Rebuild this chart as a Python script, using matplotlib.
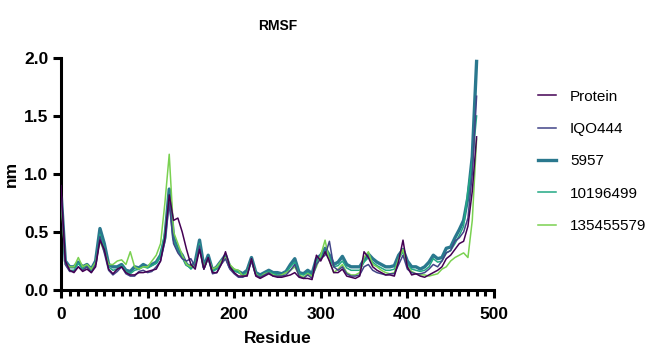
import numpy as np
import matplotlib.pyplot as plt
from matplotlib.ticker import MultipleLocator

plt.rcParams['font.family'] = ['Liberation Sans', 'DejaVu Sans']

residue = list(range(0, 481, 5))

protein = [0.9, 0.25, 0.17, 0.15, 0.2, 0.16, 0.18, 0.15, 0.2, 0.43,
           0.35, 0.18, 0.14, 0.18, 0.2, 0.15, 0.13, 0.13, 0.15, 0.15,
           0.16, 0.17, 0.18, 0.25, 0.45, 0.82, 0.6, 0.62, 0.5, 0.35,
           0.22, 0.18, 0.35, 0.18, 0.28, 0.15, 0.15, 0.22, 0.33, 0.2,
           0.15, 0.12, 0.12, 0.12, 0.27, 0.12, 0.1, 0.12, 0.14, 0.12,
           0.11, 0.11, 0.12, 0.13, 0.15, 0.11, 0.1, 0.1, 0.09, 0.3,
           0.25, 0.33, 0.25, 0.15, 0.15, 0.18, 0.12, 0.11, 0.1, 0.12,
           0.33, 0.28, 0.2, 0.17, 0.15, 0.13, 0.13, 0.12, 0.25, 0.43,
           0.2, 0.13, 0.14, 0.12, 0.11, 0.13, 0.15, 0.17, 0.2, 0.27,
           0.3, 0.35, 0.4, 0.42, 0.55, 0.85, 1.32]

iqo444 = [0.85, 0.22, 0.16, 0.16, 0.2, 0.17, 0.2, 0.15, 0.22, 0.46,
          0.32, 0.17, 0.13, 0.16, 0.2, 0.14, 0.12, 0.12, 0.16, 0.17,
          0.15, 0.16, 0.2, 0.25, 0.42, 0.75, 0.4, 0.32, 0.27, 0.25,
          0.27, 0.2, 0.38, 0.18, 0.28, 0.14, 0.15, 0.22, 0.27, 0.18,
          0.14, 0.11, 0.11, 0.13, 0.25, 0.13, 0.11, 0.13, 0.15, 0.12,
          0.12, 0.12, 0.13, 0.17, 0.22, 0.12, 0.1, 0.13, 0.1, 0.22,
          0.27, 0.3, 0.42, 0.2, 0.17, 0.2, 0.14, 0.12, 0.12, 0.13,
          0.2, 0.22, 0.17, 0.15, 0.14, 0.13, 0.14, 0.14, 0.22, 0.3,
          0.18, 0.15, 0.14, 0.14, 0.15, 0.18, 0.22, 0.2, 0.25, 0.32,
          0.34, 0.42, 0.45, 0.5, 0.62, 1.0, 1.67]

c5957 = [0.85, 0.25, 0.2, 0.2, 0.24, 0.2, 0.22, 0.18, 0.25, 0.53,
         0.4, 0.22, 0.2, 0.2, 0.22, 0.17, 0.16, 0.2, 0.19, 0.22,
         0.2, 0.22, 0.24, 0.3, 0.45, 0.87, 0.45, 0.35, 0.3, 0.22,
         0.2, 0.24, 0.43, 0.2, 0.3, 0.17, 0.2, 0.25, 0.3, 0.2,
         0.17, 0.16, 0.14, 0.17, 0.28, 0.15, 0.13, 0.15, 0.17, 0.15,
         0.15, 0.14, 0.16, 0.22, 0.27, 0.15, 0.14, 0.17, 0.14, 0.27,
         0.3, 0.36, 0.3, 0.22, 0.24, 0.29, 0.22, 0.2, 0.2, 0.2,
         0.26, 0.31, 0.27, 0.24, 0.22, 0.2, 0.2, 0.21, 0.3, 0.35,
         0.25, 0.2, 0.2, 0.18, 0.2, 0.24, 0.3, 0.27, 0.28, 0.36,
         0.37, 0.45, 0.52, 0.6, 0.8, 1.15, 1.97]

c10196499 = [0.85, 0.22, 0.17, 0.17, 0.23, 0.18, 0.2, 0.16, 0.23, 0.48,
             0.36, 0.2, 0.17, 0.18, 0.21, 0.16, 0.14, 0.17, 0.18, 0.2,
             0.19, 0.21, 0.23, 0.3, 0.5, 0.8, 0.42, 0.33, 0.28, 0.22,
             0.18, 0.22, 0.4, 0.18, 0.28, 0.16, 0.18, 0.23, 0.28, 0.2,
             0.17, 0.15, 0.13, 0.15, 0.26, 0.14, 0.12, 0.14, 0.16, 0.14,
             0.13, 0.13, 0.15, 0.2, 0.24, 0.14, 0.13, 0.15, 0.12, 0.24,
             0.28, 0.33, 0.28, 0.2, 0.21, 0.25, 0.19, 0.17, 0.17, 0.17,
             0.24, 0.28, 0.24, 0.21, 0.19, 0.17, 0.17, 0.18, 0.27, 0.33,
             0.22, 0.18, 0.17, 0.16, 0.17, 0.2, 0.27, 0.24, 0.25, 0.32,
             0.34, 0.4, 0.47, 0.55, 0.86, 1.1, 1.5]

c135455579 = [0.8, 0.23, 0.2, 0.2, 0.28, 0.2, 0.22, 0.18, 0.24, 0.42,
              0.33, 0.22, 0.22, 0.25, 0.26, 0.22, 0.33, 0.2, 0.18, 0.2,
              0.2, 0.25, 0.3, 0.4, 0.75, 1.17, 0.5, 0.4, 0.3, 0.22,
              0.2, 0.22, 0.35, 0.2, 0.27, 0.18, 0.2, 0.25, 0.28, 0.22,
              0.18, 0.17, 0.12, 0.14, 0.26, 0.14, 0.11, 0.14, 0.15, 0.13,
              0.12, 0.13, 0.15, 0.17, 0.2, 0.13, 0.11, 0.14, 0.12, 0.2,
              0.3, 0.43, 0.25, 0.15, 0.18, 0.22, 0.15, 0.13, 0.13, 0.15,
              0.28, 0.33, 0.22, 0.2, 0.17, 0.15, 0.14, 0.15, 0.27, 0.35,
              0.2, 0.16, 0.14, 0.13, 0.13, 0.12, 0.13, 0.14, 0.18, 0.2,
              0.25, 0.28, 0.3, 0.32, 0.28, 0.6, 1.3]

names = ['Protein', 'IQO444', '5957', '10196499', '135455579']
series = [protein, iqo444, c5957, c10196499, c135455579]
colors = ['#440154', '#414487', '#2a788e', '#22a884', '#7ad151']
widths = [1.1, 1.1, 2.4, 1.1, 1.1]
zorders = [6, 5, 2, 3, 4]

fig = plt.figure(figsize=(6.51, 3.49), dpi=100)
ax = fig.add_axes([0.0937, 0.169, 0.665, 0.665])

for name, y, c, w, z in zip(names, series, colors, widths, zorders):
    ax.plot(residue, y, color=c, lw=w, label=name, zorder=z)

ax.set_xlim(0, 500)
ax.set_ylim(0, 2.0)
ax.xaxis.set_major_locator(MultipleLocator(100))
ax.xaxis.set_minor_locator(MultipleLocator(10))
ax.yaxis.set_major_locator(MultipleLocator(0.5))
ax.yaxis.set_major_formatter(plt.FormatStrFormatter('%.1f'))

for s in ['top', 'right']:
    ax.spines[s].set_visible(False)
for s in ['left', 'bottom']:
    ax.spines[s].set_linewidth(2.2)
ax.tick_params(which='major', length=6, width=2.2, direction='out')
ax.tick_params(which='minor', length=4, width=2.2, direction='out')
ax.tick_params(axis='x', labelsize=12.5, pad=6)
ax.tick_params(axis='y', labelsize=12.5, pad=3)
for lab in ax.get_xticklabels() + ax.get_yticklabels():
    lab.set_fontweight('bold')

ax.set_xlabel('Residue', fontsize=12.5, fontweight='bold', labelpad=7)
ax.set_ylabel('nm', fontsize=12.5, fontweight='bold', labelpad=4)
ax.set_title('RMSF', fontsize=10, fontweight='bold', pad=20)

leg = ax.legend(loc='center left', bbox_to_anchor=(1.07, 0.554), frameon=False,
                fontsize=11, handlelength=1.15, handletextpad=0.95, labelspacing=1.2)

plt.savefig('out.png', dpi=100)
plt.close()
